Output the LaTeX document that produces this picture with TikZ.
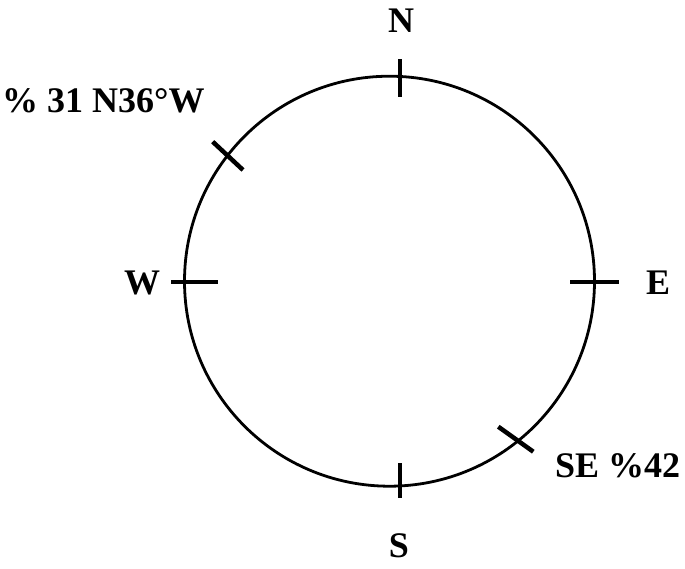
\documentclass[tikz,border=0pt]{standalone}
\usepackage{fontspec}
\setmainfont{Liberation Serif}
\begin{document}
\begin{tikzpicture}[x=1pt,y=-1pt,
  ring/.style={line width=2.8pt},
  tick/.style={line width=4.5pt},
  lab/.style={inner sep=0pt,font=\fontsize{36}{40}\selectfont\bfseries}]
\useasboundingbox (0,0) rectangle (685,568);
\coordinate (c) at (389.5,281.2);
\draw[ring] (c) circle[radius=205];
% ticks
\coordinate (n1) at (400,59); \coordinate (n2) at (400,97);
\coordinate (s1) at (400,463); \coordinate (s2) at (400,498);
\coordinate (w1) at (171,282); \coordinate (w2) at (218,282);
\coordinate (e1) at (570,282); \coordinate (e2) at (619,282);
\coordinate (nw1) at (212.7,141.7); \coordinate (nw2) at (243,170);
\coordinate (se1) at (498.3,426.7); \coordinate (se2) at (533.3,451.7);
\draw[tick] (n1) -- (n2);
\draw[tick] (s1) -- (s2);
\draw[tick] (w1) -- (w2);
\draw[tick] (e1) -- (e2);
\draw[tick] (nw1) -- (nw2);
\draw[tick] (se1) -- (se2);
% labels
\node[lab,anchor=base] (ln) at (401,32) {N};
\node[lab,anchor=base] (ls) at (399,557) {S};
\node[lab,anchor=base] (lw) at (142,294) {W};
\node[lab,anchor=base] (le) at (658,294) {E};
\node[lab,anchor=base west] (lnw) at (2,112) {\% 31 N36°W};
\node[lab,anchor=base west] (lse) at (555,477) {SE \%42};
\end{tikzpicture}
\end{document}
